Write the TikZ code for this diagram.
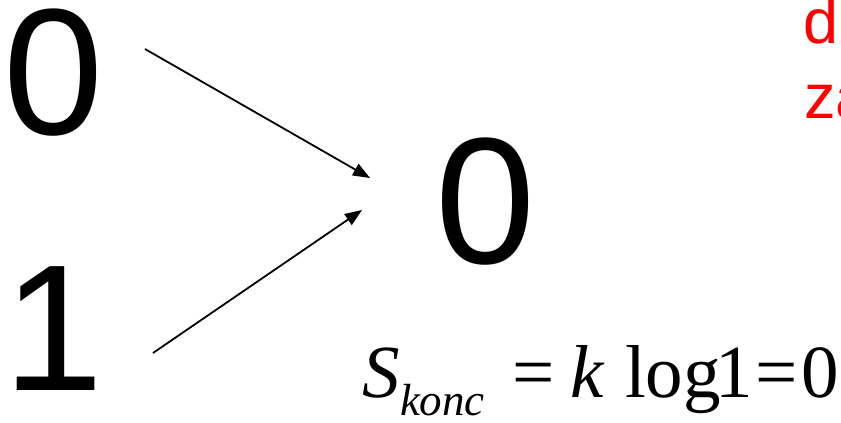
\documentclass[tikz,border=0pt]{standalone}
\usepackage{fontspec}
\setmainfont{Liberation Serif}
\newfontfamily\arialfont{Liberation Sans}
\usetikzlibrary{arrows.meta}
\begin{document}
\begin{tikzpicture}[x=1bp,y=-1bp,
  digit/.style={inner sep=0pt,outer sep=0pt,anchor=base west,font=\arialfont\fontsize{180bp}{216bp}\selectfont},
  redtext/.style={inner sep=0pt,outer sep=0pt,anchor=base west,text=red,font=\arialfont\fontsize{63bp}{75bp}\selectfont},
  eq/.style={inner sep=0pt,outer sep=0pt,anchor=base west,font=\fontsize{75bp}{90bp}\selectfont},
  eqit/.style={eq,font=\itshape\fontsize{75bp}{90bp}\selectfont},
  eqsub/.style={inner sep=0pt,outer sep=0pt,anchor=base west,font=\itshape\fontsize{45bp}{54bp}\selectfont},
  arr/.style={line width=1.8bp,-{Triangle[length=17bp,width=13bp]}}]
\useasboundingbox (0,0) rectangle (841,422);
\node[digit] (zeroA) at (3,134) {0};
\node[digit] (one) at (3,390) {1};
\node[digit] (zeroB) at (435,263) {0};
\node[redtext] (d) at (803,43) {d};
\node[redtext] (za) at (804,118) {za};
\coordinate (a1s) at (145,49);
\coordinate (a1e) at (370,178);
\coordinate (a2s) at (153,353);
\coordinate (a2e) at (362,210);
\draw[arr] (a1s) -- (a1e);
\draw[arr] (a2s) -- (a2e);
\node[eqit] (S) at (362,397) {S};
\node[eqsub] (konc) at (400,415) {konc};
\node[eq] (eq1) at (512,397) {=};
\node[eqit] (k) at (570,397) {k};
\node[eq] (log) at (625,397) {log};
\node[eq] (one2) at (715,397) {1};
\node[eq] (eq2) at (755,397) {=};
\node[eq] (zeroC) at (801,397) {0};
\end{tikzpicture}
\end{document}
